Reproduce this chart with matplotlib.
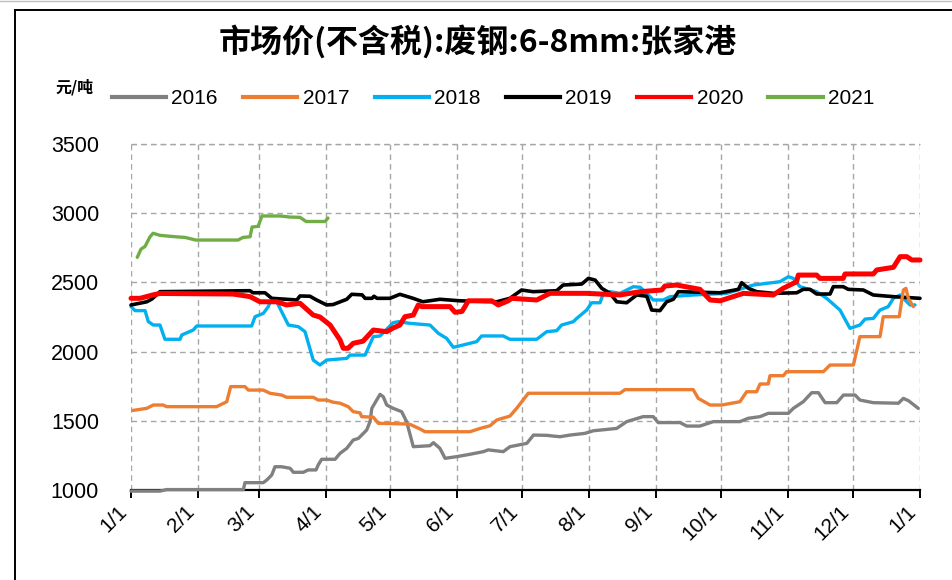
import matplotlib
matplotlib.use("Agg")
import matplotlib.pyplot as plt
from matplotlib.lines import Line2D

# ---------------- data (day of year, price in 元/吨) ----------------
years = ["2016", "2017", "2018", "2019", "2020", "2021"]
colors = ["#808080", "#ED7D31", "#00B0F0", "#000000", "#FF0000", "#70AD47"]

day_2016 = [0, 13.4, 16.5, 52, 52.7, 61.2, 62.8, 65.1, 66.6, 69.7, 73.6, 75.1, 79.7, 82, 85.6, 86.6, 88.2,
            94.4, 96.7, 99.8, 102.8, 105.2, 109, 110.6, 111.4, 115.2, 116.7, 118.3, 121.3, 125.2, 127.5,
            130.6, 138.3, 139.9, 142.9, 145.3, 150.7, 156.8, 163, 165.3, 172.2, 175.3, 183.1, 186.2, 192.3,
            195.2, 198.5, 203.1, 209.9, 213.9, 224.7, 229.3, 236.9, 241.6, 243.9, 254, 257.1, 263.2, 269.4,
            281.7, 285.5, 291, 294.8, 304.1, 306.4, 311, 314.9, 318, 321.1, 326.5, 329.6, 335, 337.2, 343.4,
            355, 357.3, 359.7, 364.2]
val_2016 = [992, 992, 1003, 1003, 1053, 1053, 1072, 1108, 1168, 1168, 1157, 1128, 1128, 1145, 1145, 1181, 1222,
            1222, 1265, 1301, 1361, 1373, 1433, 1494, 1590, 1691, 1674, 1614, 1590, 1566, 1494,
            1313, 1320, 1342, 1301, 1229, 1241, 1258, 1277, 1290, 1277, 1313, 1337, 1397, 1395,
            1390, 1385, 1397, 1409, 1428, 1445, 1494, 1530, 1530, 1487, 1487, 1462, 1462, 1494,
            1494, 1518, 1530, 1554, 1554, 1590, 1638, 1703, 1703, 1631, 1631, 1686, 1686, 1650, 1631,
            1627, 1662, 1645, 1590]

day_2017 = [0.9, 7.3, 10.3, 14.9, 16.5, 39.6, 44.3, 46.1, 52.7, 54.3, 61.2, 64.3, 69.7, 72, 84.3, 86.6, 90.5,
            93.6, 96.7, 100.5, 102.8, 105.9, 106.7, 112.1, 114.4, 127.5, 129.1, 133.7, 136, 156.8, 161.5,
            166.1, 169.2, 175.3, 178.4, 183.8, 226.2, 228.5, 260.1, 262.4, 267.9, 273.3, 281.7, 284.8,
            289.4, 291, 294.8, 295.6, 301.8, 303.3, 320.3, 323.4, 334.2, 337.2, 346.5, 348, 355.4, 357.3,
            358.5, 359.6, 361.9]
val_2017 = [1575, 1590, 1614, 1614, 1602, 1602, 1638, 1747, 1747, 1722, 1722, 1699, 1686, 1670, 1670, 1650, 1650,
            1634, 1627, 1602, 1566, 1558, 1530, 1526, 1482, 1477, 1474, 1441, 1421, 1421, 1445,
            1464, 1506, 1534, 1590, 1699, 1699, 1725, 1725, 1662, 1614, 1614, 1638, 1710,
            1710, 1766, 1766, 1826, 1826, 1855, 1855, 1903, 1903, 2108, 2108, 2252, 2252, 2445,
            2457, 2385, 2325]

day_2018 = [0, 1.9, 6.5, 8, 10.3, 13.4, 15.7, 22.7, 23.5, 28.8, 30.4, 55.8, 57.4, 61.2, 63.5, 64.5, 67.4, 69.7,
            72.8, 77.4, 80.5, 84.3, 87.4, 90.5, 99.8, 101.3, 108.3, 112.1, 115.2, 121.3, 123.7, 129.1,
            138.3, 142.2, 146, 149.1, 153.7, 159.9, 162.2, 172.2, 175.3, 187.7, 192.3, 196.9, 199.2, 204.6,
            206.2, 210.8, 213.1, 217, 218.5, 221.6, 226.2, 232.4, 235.5, 238.6, 241.6, 246.2, 249.4, 260.1,
            275.6, 287.9, 300.2, 304.1, 306.4, 309.5, 317.2, 321.8, 328, 332.6, 337.2, 339.6, 343.4, 346.5,
            350.3, 352.7, 355.8, 358.9, 360.4, 362.7]
val_2018 = [2325, 2296, 2296, 2217, 2192, 2192, 2089, 2089, 2120, 2156, 2185, 2185, 2252, 2276, 2325, 2360, 2360, 2288,
            2192, 2180, 2144, 1939, 1903, 1939, 1951, 1975, 1975, 2108, 2113, 2209, 2216, 2204,
            2192, 2132, 2096, 2031, 2048, 2072, 2113, 2113, 2089, 2089, 2144, 2151, 2192, 2216,
            2240, 2300, 2353, 2353, 2421, 2433, 2421, 2469, 2465, 2421, 2373, 2373, 2397, 2409,
            2421, 2481, 2505, 2541, 2529, 2469, 2433, 2385, 2300, 2168, 2192, 2235, 2240, 2300,
            2325, 2385, 2409, 2360, 2337, 2337]

day_2019 = [0, 4.2, 7.3, 9.7, 13.4, 55, 56.4, 62, 65.1, 76.7, 78.2, 82.8, 85.6, 90.5, 93.5, 99.8, 102.1, 106.9,
            108.3, 111.5, 112.4, 113.8, 119.8, 124.4, 130.5, 135, 142.9, 152.2, 169.2, 175.3, 180.7, 186,
            196.9, 199.9, 208.5, 211.6, 214.7, 217.8, 221.6, 224.7, 229.3, 233.9, 238.6, 240.9, 244.7, 247.8,
            250.9, 253.2, 272.5, 281, 282.5, 285.6, 289.4, 297.1, 308, 311, 314.1, 317.2, 323.4, 324.9,
            329.5, 331.8, 338.8, 343.4, 352.7, 365]
val_2019 = [2337, 2350, 2360, 2380, 2433, 2440, 2425, 2425, 2385, 2373, 2402, 2400, 2375, 2337, 2340, 2378, 2414, 2410,
            2385, 2385, 2400, 2385, 2385, 2414, 2385, 2360, 2378, 2367, 2360, 2385, 2445, 2433,
            2440, 2481, 2488, 2529, 2517, 2457, 2421, 2360, 2353, 2409, 2400, 2300, 2296, 2360,
            2378, 2433, 2425, 2450, 2498, 2457, 2433, 2421, 2425, 2450, 2450, 2416, 2416, 2469,
            2469, 2450, 2445, 2409, 2397, 2385]

day_2020 = [0, 4.2, 10.2, 13.4, 47.2, 55.1, 59.7, 67.4, 72, 78.2, 84.3, 87.4, 92.1, 96.7, 98.2, 100.4, 102.8,
            107.3, 112.1, 118.3, 121.2, 124.4, 126.7, 130.6, 132.9, 134.5, 147.6, 149.9, 153.1, 154.5, 156,
            166.9, 169.9, 174.5, 176.1, 187.7, 193.8, 210.8, 226.2, 235.5, 245.5, 247, 252.4, 263.2, 267.9,
            272.5, 283.3, 297.1, 301.7, 307.9, 308.7, 317.2, 318.7, 329.5, 330.3, 343.4, 345, 352.7, 355.8,
            358.9, 361.2, 365]
val_2020 = [2385, 2385, 2410, 2420, 2416, 2397, 2360, 2360, 2337, 2349, 2264, 2250, 2192, 2084, 2024, 2024, 2060,
            2075, 2156, 2144, 2170, 2192, 2252, 2264, 2337, 2325, 2325, 2284, 2290, 2325, 2367,
            2367, 2337, 2367, 2385, 2373, 2421, 2421, 2409, 2433, 2445, 2474, 2481, 2450, 2373,
            2367, 2421, 2409, 2457, 2505, 2553, 2553, 2529, 2529, 2561, 2561, 2590, 2609, 2686,
            2686, 2662, 2662]

day_2021 = [2.9, 4.6, 6.5, 8.8, 10.2, 13.4, 20.4, 25, 30, 49.5, 51.8, 55.1, 56, 58.8, 60.6, 68.9, 73.6, 78.2,
            81, 89.8, 91.1]
val_2021 = [2681, 2740, 2760, 2830, 2855, 2840, 2830, 2825, 2806, 2806, 2825, 2830, 2900, 2905, 2980, 2980, 2972, 2970,
            2940, 2940, 2965]

month_ticks = [0, 31, 59, 90, 120, 151, 181, 212, 243, 273, 304, 334, 365]
month_labels = ["1/1", "2/1", "3/1", "4/1", "5/1", "6/1", "7/1", "8/1", "9/1", "10/1", "11/1", "12/1", "1/1"]
y_ticks = [1000, 1500, 2000, 2500, 3000, 3500]

title = "市场价(不含税):废钢:6-8mm:张家港"
unit = "元/吨"

# ---------------- drawing ----------------
W, H = 953, 580
plt.rcParams['font.family'] = ['Liberation Sans', 'Noto Sans CJK SC', 'DejaVu Sans']
fig = plt.figure(figsize=(W / 100, H / 100), dpi=100)
fig.patch.set_facecolor("white")

ax = fig.add_axes([131 / W, 1 - 490 / H, 789 / W, 346 / H])

series = [(day_2016, val_2016), (day_2017, val_2017), (day_2018, val_2018),
          (day_2019, val_2019), (day_2020, val_2020), (day_2021, val_2021)]
widths = [2.4, 2.4, 2.4, 2.6, 3.6, 2.4]
zorders = [3, 6, 4, 5, 7, 8]
handles = []
for (d, v), yr, c, lw, z in zip(series, years, colors, widths, zorders):
    ax.plot(d, v, color=c, lw=lw, zorder=z, label=yr, clip_on=False,
            solid_joinstyle="round", solid_capstyle="round")
    handles.append(Line2D([], [], color=c, lw=3.0))

ax.set_xlim(0, 365)
ax.set_ylim(1000, 3500)
ax.set_xticks(month_ticks)
ax.set_xticklabels(month_labels, rotation=45, ha="right", va="top", fontsize=15)
ax.set_yticks(y_ticks)
ax.set_yticklabels([str(t) for t in y_ticks], fontsize=15.5)

for s in ["left", "right", "top"]:
    ax.spines[s].set_visible(False)
ax.spines["bottom"].set_linewidth(1.6)
ax.spines["bottom"].set_zorder(2)
ax.tick_params(axis="x", direction="out", length=5.5, width=1.4, pad=3, colors="black")
ax.tick_params(axis="y", length=0, pad=23)

ax.grid(True, color="#A6A6A6", linestyle=(0, (4, 3)), linewidth=1.0, zorder=0)
ax.set_axisbelow(True)
ax.axhline(3500, color="#A6A6A6", linestyle=(0, (4, 3)), linewidth=1.0, zorder=0, clip_on=False)

# title and unit
fig.text(478 / W, 1 - 42 / H, title, ha="center", va="center", fontsize=23,
         fontweight="bold", family=["Noto Sans CJK SC", "DejaVu Sans"])
fig.text(75 / W, 1 - 87 / H, unit, ha="center", va="center", fontsize=11.5,
         fontweight="bold", family=["Noto Sans CJK SC", "DejaVu Sans"])

# legend
fig.legend(handles, years, loc="center left", bbox_to_anchor=(112 / W, 1 - 99 / H),
           ncol=6, frameon=False, fontsize=15, handlelength=2.6, handletextpad=0.25,
           columnspacing=1.22, borderpad=0, borderaxespad=0)

# outer frame lines
fig.add_artist(Line2D([15 / W, 1], [1 - 10 / H, 1 - 10 / H], color="black", lw=1.4))
fig.add_artist(Line2D([15 / W, 15 / W], [0, 1 - 10 / H], color="black", lw=1.4))
fig.add_artist(Line2D([0, 1], [1 - 0.7 / H, 1 - 0.7 / H], color="#BFBFBF", lw=1.0))

fig.savefig("out.png", dpi=100, facecolor="white")
